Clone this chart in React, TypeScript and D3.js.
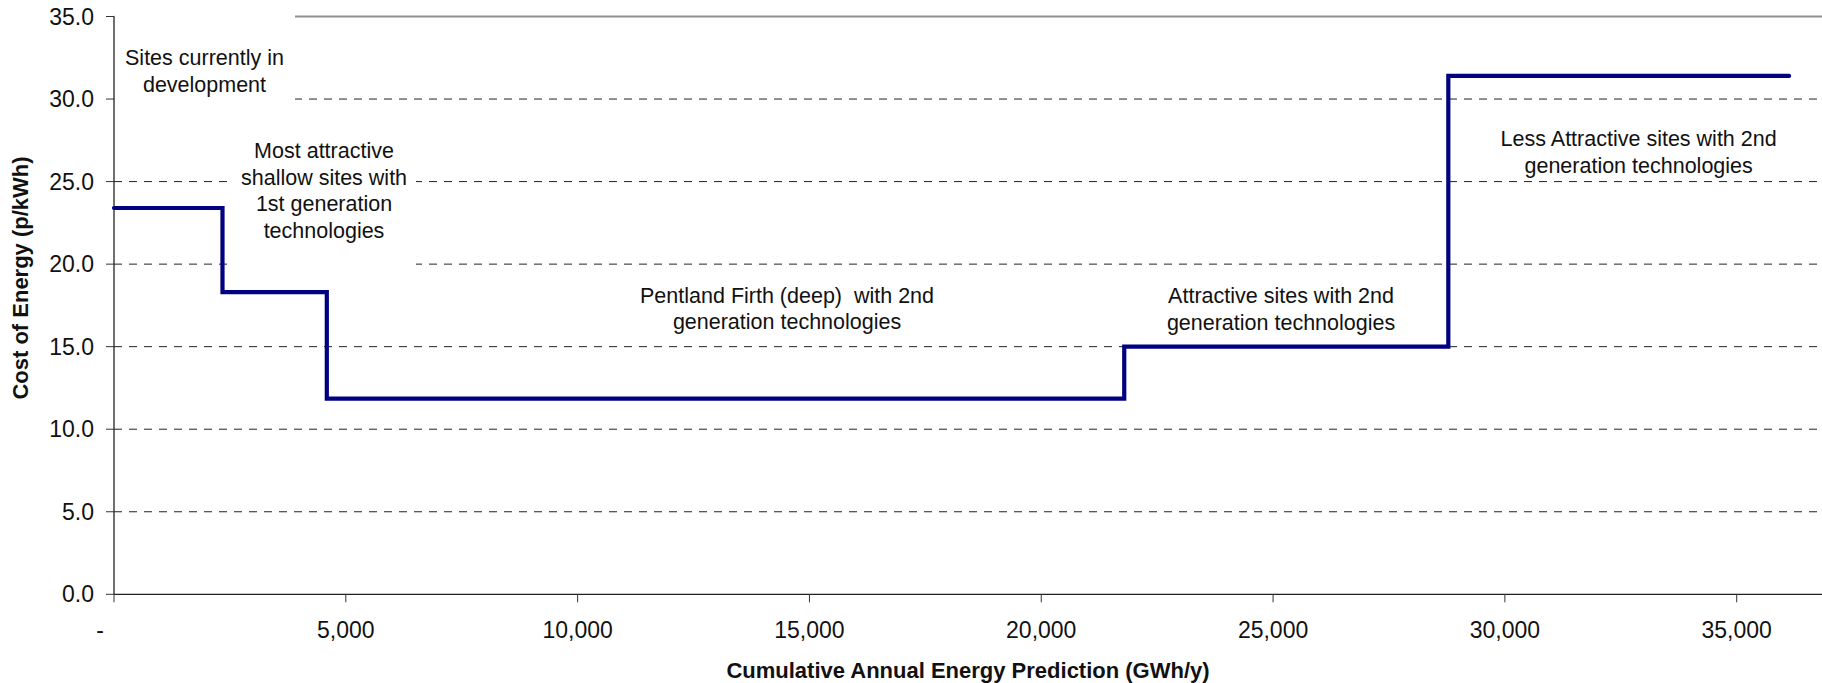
import React from "react";
import * as d3 from "d3";

// ---- data ----
const stepStarts = [0, 2340, 4590, 21790, 28780];
const stepEnd = 36130;
const stepCosts = [23.4, 18.3, 11.85, 15.0, 31.4];
const yTicks = [0, 5, 10, 15, 20, 25, 30, 35];
const xTicks = [0, 5000, 10000, 15000, 20000, 25000, 30000, 35000];
const labelTexts = [
  ["Sites currently in", "development"],
  ["Most attractive", "shallow sites with", "1st generation", "technologies"],
  ["Pentland Firth (deep)  with 2nd", "generation technologies"],
  ["Attractive sites with 2nd", "generation technologies"],
  ["Less Attractive sites with 2nd", "generation technologies"],
];
const labelAnchors = [
  [1952, 32.06],
  [4530, 26.43],
  [14517, 17.66],
  [25172, 17.62],
  [32885, 27.15],
];
const xTitle = "Cumulative Annual Energy Prediction (GWh/y)";
const yTitle = "Cost of Energy (p/kWh)";

const W = 1822;
const H = 683;
const FONT = "'Liberation Sans', Arial, sans-serif";

export default function App() {
  const x = d3.scaleLinear().domain([0, 36840]).range([114, 1822]);
  const y = d3.scaleLinear().domain([0, 35]).range([594.3, 16.5]);

  const pts: [number, number][] = stepStarts.map((s, i) => [s, stepCosts[i]]);
  pts.push([stepEnd, stepCosts[stepCosts.length - 1]]);
  const line = d3
    .line<[number, number]>()
    .x((d) => x(d[0]))
    .y((d) => y(d[1]))
    .curve(d3.curveStepAfter);

  const lineH = 26.6;
  const fs = 21.5;

  // white boxes behind the first two labels (they mask the gridlines)
  const boxes = [
    { x0: 114.5, x1: 295, y0: 8, y1: 104 },
    { x0: 233, x1: 416, y0: 122, y1: 272 },
  ];

  return (
    <svg
      width={W}
      height={H}
      style={{ position: "absolute", left: 0, top: 0, background: "#fff" }}
      fontFamily={FONT}
    >
      <rect x={0} y={0} width={W} height={H} fill="#fff" />
      {/* gridlines */}
      {yTicks
        .filter((t) => t > 0 && t < 35)
        .map((t) => (
          <line
            key={t}
            x1={x(0)}
            x2={W}
            y1={y(t)}
            y2={y(t)}
            stroke="#222"
            strokeWidth={1}
            strokeDasharray="8,7"
          />
        ))}
      <line x1={x(0)} x2={W} y1={y(35)} y2={y(35)} stroke="#8f8f8f" strokeWidth={2} />
      {boxes.map((b, i) => (
        <rect key={i} x={b.x0} y={b.y0} width={b.x1 - b.x0} height={b.y1 - b.y0} fill="#fff" />
      ))}
      {/* axes */}
      <line x1={x(0)} x2={x(0)} y1={y(35)} y2={y(0)} stroke="#222" strokeWidth={1.3} />
      <line x1={x(0)} x2={W} y1={y(0)} y2={y(0)} stroke="#222" strokeWidth={1.3} />
      {yTicks.map((t) => (
        <g key={t}>
          <line x1={x(0) - 8} x2={x(0)} y1={y(t)} y2={y(t)} stroke="#333" strokeWidth={1} />
          <text
            x={x(0) - 20}
            y={y(t)}
            dy="0.35em"
            textAnchor="end"
            fontSize={23}
            fill="#111"
          >
            {t.toFixed(1)}
          </text>
        </g>
      ))}
      {xTicks.map((t) => (
        <g key={t}>
          <line x1={x(t)} x2={x(t)} y1={y(0)} y2={y(0) + 8} stroke="#333" strokeWidth={1} />
          <text
            x={x(t) + (t === 0 ? -14 : 0)}
            y={638}
            textAnchor="middle"
            fontSize={23}
            fill="#111"
          >
            {t === 0 ? "-" : d3.format(",")(t)}
          </text>
        </g>
      ))}
      {/* step line */}
      <path
        d={line(pts) || ""}
        fill="none"
        stroke="#000080"
        strokeWidth={4.2}
        strokeLinecap="round"
        strokeLinejoin="miter"
      />
      {/* annotations */}
      {labelTexts.map((lines, i) => {
        const cx = x(labelAnchors[i][0]);
        const by = y(labelAnchors[i][1]);
        return (
          <text
            key={i}
            x={cx}
            y={by}
            textAnchor="middle"
            fontSize={fs}
            fill="#111"
            style={{ whiteSpace: "pre" }}
          >
            {lines.map((l, j) => (
              <tspan key={j} x={cx} y={by + j * lineH}>
                {l}
              </tspan>
            ))}
          </text>
        );
      })}
      {/* axis titles */}
      <text
        x={(x(0) + W) / 2}
        y={678}
        textAnchor="middle"
        fontSize={22}
        fontWeight="bold"
        fill="#111"
      >
        {xTitle}
      </text>
      <text
        transform={`translate(28, 278) rotate(-90)`}
        textAnchor="middle"
        fontSize={22}
        fontWeight="bold"
        fill="#111"
      >
        {yTitle}
      </text>
    </svg>
  );
}
